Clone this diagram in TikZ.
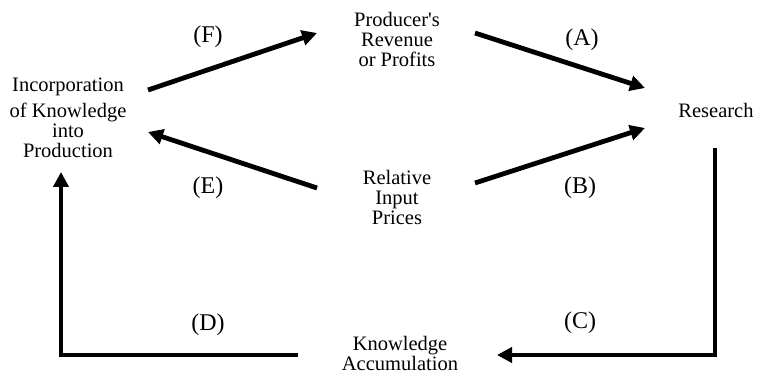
\documentclass[tikz,border=0pt]{standalone}
\usepackage{fontspec}
\setmainfont{Liberation Serif}[Ligatures=TeXOff]
\usetikzlibrary{arrows.meta,calc}
\tikzset{
  lbl/.style={font=\fontsize{20.5}{20}\selectfont, align=center, inner sep=0pt},
  tag/.style={font=\fontsize{24}{24}\selectfont, inner sep=0pt},
  flow/.style={line width=4.8pt, -{Triangle[length=15pt,width=15pt]}}
}
\begin{document}
\begin{tikzpicture}[x=1pt,y=-1pt]
  \useasboundingbox (0,0) rectangle (757,374);

  \node[lbl] (inc)  at (68,118)  {Incorporation\\[6pt]of Knowledge\\into\\Production};
  \node[lbl] (prod) at (397,39)  {Producer's\\Revenue\\or Profits};
  \node[lbl] (res)  at (716,110) {Research};
  \node[lbl] (rel)  at (397,197) {Relative\\Input\\Prices};
  \node[lbl] (know) at (400,353) {Knowledge\\Accumulation};

  \node[tag] (tA) at (582,40)  {(A)};
  \node[tag] (tB) at (580,188) {(B)};
  \node[tag] (tC) at (580,323) {(C)};
  \node[tag] (tD) at (208,325) {(D)};
  \node[tag] (tE) at (208,188) {(E)};
  \node[tag] (tF) at (208,37)  {(F)};

  \draw[flow] ($(inc)+(80,-28)$) -- ($(prod)+(-80,-6)$);
  \draw[flow] ($(prod)+(78,-6)$) -- ($(res)+(-71,-22)$);
  \draw[flow] ($(rel)+(-80,-9)$) -- ($(inc)+(80,14)$);
  \draw[flow] ($(rel)+(78,-14)$) -- ($(res)+(-71,18)$);
  \draw[flow] ($(res)+(-1,38)$) |- ($(know)+(97,2)$);
  \draw[flow] ($(know)+(-102,2)$) -| ($(inc)+(-7,54)$);
\end{tikzpicture}
\end{document}
